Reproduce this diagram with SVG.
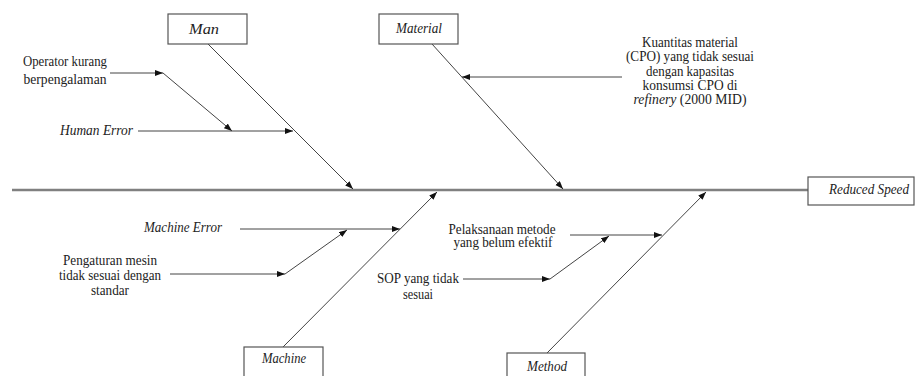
<svg xmlns="http://www.w3.org/2000/svg" width="916" height="376" viewBox="0 0 916 376">
<defs>
<marker id="ah" markerUnits="userSpaceOnUse" markerWidth="9" markerHeight="7" refX="8" refY="3" orient="auto">
<path d="M0,0 L8,3 L0,6 Z" fill="#111"/>
</marker>
</defs>
<rect width="916" height="376" fill="#fff"/>
<g id="connectors" stroke="#444" stroke-width="1" fill="none">
<line x1="12" y1="190" x2="808" y2="190" stroke="#808080" stroke-width="2.5"/>
<line x1="208" y1="44" x2="353" y2="189" marker-end="url(#ah)"/>
<line x1="432" y1="44" x2="563" y2="189" marker-end="url(#ah)"/>
<line x1="283" y1="347" x2="437" y2="192" marker-end="url(#ah)"/>
<line x1="547" y1="353" x2="706" y2="192" marker-end="url(#ah)"/>
<line x1="110" y1="73" x2="163" y2="73" marker-end="url(#ah)"/>
<line x1="163" y1="73" x2="232" y2="131" marker-end="url(#ah)"/>
<line x1="138" y1="131" x2="293" y2="131" marker-end="url(#ah)"/>
<line x1="622" y1="77" x2="462" y2="77" marker-end="url(#ah)"/>
<line x1="240" y1="229" x2="400" y2="229" marker-end="url(#ah)"/>
<line x1="170" y1="274" x2="285" y2="274" marker-end="url(#ah)"/>
<line x1="285" y1="274" x2="347" y2="230" marker-end="url(#ah)"/>
<line x1="570" y1="235" x2="662" y2="235" marker-end="url(#ah)"/>
<line x1="463" y1="279" x2="550" y2="279" marker-end="url(#ah)"/>
<line x1="550" y1="279" x2="609" y2="236" marker-end="url(#ah)"/>
</g>
<g font-family="Liberation Serif" font-size="14" fill="#222" lengthAdjust="spacingAndGlyphs">
<g font-style="italic" text-anchor="middle">
<g id="man">
<rect x="168" y="14" width="79" height="30" fill="#fff" stroke="#555" stroke-width="1.2"/>
<text x="204" y="34" textLength="30" lengthAdjust="spacingAndGlyphs">Man</text>
</g>
<g id="material">
<rect x="379" y="14" width="79" height="30" fill="#fff" stroke="#555" stroke-width="1.2"/>
<text x="419" y="33" textLength="46" lengthAdjust="spacingAndGlyphs">Material</text>
</g>
<g id="machine">
<rect x="244" y="347" width="79" height="34" fill="#fff" stroke="#555" stroke-width="1.2"/>
<text x="284" y="363" textLength="44" lengthAdjust="spacingAndGlyphs">Machine</text>
</g>
<g id="method">
<rect x="507" y="353" width="78" height="30" fill="#fff" stroke="#555" stroke-width="1.2"/>
<text x="547" y="371" textLength="40" lengthAdjust="spacingAndGlyphs">Method</text>
</g>
<g id="reduced-speed">
<rect x="808" y="177" width="106" height="28" fill="#fff" stroke="#555" stroke-width="1.2"/>
<text x="869" y="194" textLength="80" lengthAdjust="spacingAndGlyphs">Reduced Speed</text>
</g>
</g>
<g id="operator" text-anchor="middle">
<text x="65" y="66" textLength="84" lengthAdjust="spacingAndGlyphs">Operator kurang</text>
<text x="65" y="83.5" textLength="83" lengthAdjust="spacingAndGlyphs">berpengalaman</text>
</g>
<g id="human-error">
<text x="60" y="135" font-style="italic" textLength="73" lengthAdjust="spacingAndGlyphs">Human Error</text>
</g>
<g id="kuantitas" text-anchor="middle">
<text x="690" y="47" textLength="96" lengthAdjust="spacingAndGlyphs">Kuantitas material</text>
<text x="690" y="61" textLength="128" lengthAdjust="spacingAndGlyphs">(CPO) yang tidak sesuai</text>
<text x="690" y="75.5" textLength="88" lengthAdjust="spacingAndGlyphs">dengan kapasitas</text>
<text x="690" y="90" textLength="95" lengthAdjust="spacingAndGlyphs">konsumsi CPO di</text>
<text x="690" y="103.5" textLength="113" lengthAdjust="spacingAndGlyphs"><tspan font-style="italic">refinery</tspan> (2000 MID)</text>
</g>
<g id="machine-error">
<text x="222" y="231.5" font-style="italic" text-anchor="end" textLength="78" lengthAdjust="spacingAndGlyphs">Machine Error</text>
</g>
<g id="pengaturan" text-anchor="middle">
<text x="110" y="265" textLength="94" lengthAdjust="spacingAndGlyphs">Pengaturan mesin</text>
<text x="110" y="280" textLength="102" lengthAdjust="spacingAndGlyphs">tidak sesuai dengan</text>
<text x="110" y="295" textLength="38" lengthAdjust="spacingAndGlyphs">standar</text>
</g>
<g id="pelaksanaan" text-anchor="middle">
<text x="502" y="233.5" textLength="107" lengthAdjust="spacingAndGlyphs">Pelaksanaan metode</text>
<text x="503" y="247" textLength="99" lengthAdjust="spacingAndGlyphs">yang belum efektif</text>
</g>
<g id="sop">
<text x="459" y="283" text-anchor="end" textLength="82" lengthAdjust="spacingAndGlyphs">SOP yang tidak</text>
<text x="418" y="299" text-anchor="middle" textLength="30" lengthAdjust="spacingAndGlyphs">sesuai</text>
</g>
</g>
</svg>
